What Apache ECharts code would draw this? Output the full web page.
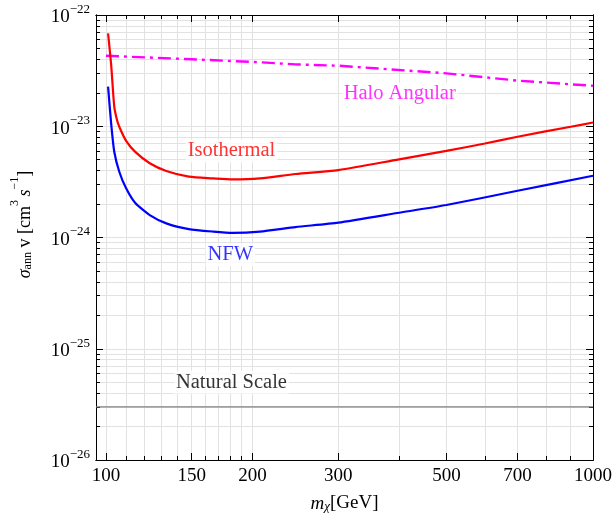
<!DOCTYPE html>
<html>
<head>
<meta charset="utf-8">
<script src="https://cdn.jsdelivr.net/npm/echarts@6/dist/echarts.min.js"></script>
<style>
html,body{margin:0;padding:0;background:#fff;}
#chart{width:615px;height:518px;}
</style>
</head>
<body>
<div id="chart"></div>
<script>
// ---- data (sigma v in cm^3 s^-1, mass in GeV) ----
const massIsothermal = [101, 102.5, 104, 105.2, 106.5, 110, 115, 123, 133, 148, 166, 182, 207, 245, 300, 400, 500, 600, 700, 900, 1000];
const sigmaIsothermal = [6.85e-23, 3.55e-23, 1.5e-23, 1.17e-23, 9.9e-24, 7.4e-24, 5.85e-24, 4.65e-24, 3.96e-24, 3.52e-24, 3.40e-24, 3.33e-24, 3.40e-24, 3.72e-24, 4.04e-24, 5.04e-24, 6.0e-24, 7.0e-24, 8.05e-24, 9.9e-24, 1.08e-23];

const massNFW = [101, 102.5, 104, 106.5, 110, 115, 123, 133, 148, 166, 182, 207, 245, 300, 400, 500, 700, 1000];
const sigmaNFW = [2.27e-23, 1.05e-23, 5.9e-24, 3.9e-24, 2.77e-24, 2.03e-24, 1.59e-24, 1.34e-24, 1.19e-24, 1.13e-24, 1.10e-24, 1.13e-24, 1.24e-24, 1.36e-24, 1.67e-24, 1.96e-24, 2.63e-24, 3.59e-24];

const massHalo = [100, 150, 207, 245, 300, 500, 700, 1000];
const sigmaHalo = [4.3e-23, 4.0e-23, 3.76e-23, 3.6e-23, 3.5e-23, 2.99e-23, 2.57e-23, 2.31e-23];

const naturalScale = 3.0e-26;

const xTickLabels = [100, 150, 200, 300, 500, 700, 1000];
const xGridValues = [100, 110, 120, 130, 140, 150, 160, 170, 180, 190, 200, 300, 400, 500, 600, 700, 800, 900, 1000];
const yTickExponents = [-26, -25, -24, -23, -22];
const yGridMultipliers = [1, 2, 3, 4, 5, 6, 7, 8, 9];

const annotations = [
  { text: 'Halo Angular', m: 401, v: 1.95e-23, color: '#ff00ff' },
  { text: 'Isothermal', m: 181, v: 6.0e-24, color: '#ff0000' },
  { text: 'NFW', m: 180, v: 6.96e-25, color: '#0000ff' },
  { text: 'Natural Scale', m: 181, v: 5.0e-26, color: '#000000' }
];

// ---- derived: the y axis works in units of 1e-26 cm^3 s^-1 ----
const Y_UNIT_EXP = -26;
const Y_UNIT = Math.pow(10, Y_UNIT_EXP);
const pretty = v => parseFloat(v.toPrecision(6));
const toUnit = v => pretty(v / Y_UNIT);
const X_MIN = 95.4, X_MAX = 1000;
const Y_MIN = toUnit(Math.pow(10, yTickExponents[0]));
const Y_MAX = toUnit(Math.pow(10, yTickExponents[yTickExponents.length - 1]));
const yMajor = yTickExponents.map(e => pretty(Math.pow(10, e - Y_UNIT_EXP)));
const yGrid = [];
yTickExponents.forEach(e => {
  yGridMultipliers.forEach(k => {
    const v = pretty(k * Math.pow(10, e - Y_UNIT_EXP));
    if (v >= Y_MIN && v <= Y_MAX) yGrid.push(v);
  });
});
const yMinorTicks = yGrid.filter(v => yMajor.indexOf(v) < 0);
const xMinorTicks = xGridValues.filter(v => xTickLabels.indexOf(v) < 0);

const FONT = 'Liberation Serif';
const zip = (a, b) => a.map((x, i) => [x, toUnit(b[i])]);

function xAxisDef(pos, ticks, len, showLabel, grid) {
  return {
    type: 'log', logBase: 10, min: X_MIN, max: X_MAX, position: pos,
    axisLine: { show: true, lineStyle: { color: '#000', width: 1 } },
    axisTick: { show: true, inside: true, length: len, customValues: ticks, lineStyle: { color: '#000', width: 1 } },
    axisLabel: showLabel ? {
      show: true, customValues: xTickLabels, formatter: v => String(Math.round(v)),
      fontFamily: FONT, fontSize: 19, color: '#000', margin: 7
    } : { show: false },
    splitLine: { show: grid, lineStyle: { color: '#e2e2e2', width: 1 } },
    minorTick: { show: false }, minorSplitLine: { show: false }
  };
}
function yAxisDef(pos, ticks, len, showLabel, grid) {
  return {
    type: 'log', logBase: 10, min: Y_MIN, max: Y_MAX, position: pos,
    axisLine: { show: true, lineStyle: { color: '#000', width: 1 } },
    axisTick: { show: true, inside: true, length: len, customValues: ticks, lineStyle: { color: '#000', width: 1 } },
    axisLabel: showLabel ? {
      show: true, customValues: yMajor, margin: 6,
      formatter: v => '{b|10}{s|\u2212' + (-(Math.round(Math.log10(v)) + Y_UNIT_EXP)) + '}',
      rich: {
        b: { fontFamily: FONT, fontSize: 19, color: '#000', lineHeight: 24, verticalAlign: 'bottom' },
        s: { fontFamily: FONT, fontSize: 13, color: '#000', lineHeight: 14, verticalAlign: 'top' }
      }
    } : { show: false },
    splitLine: { show: grid, lineStyle: { color: '#e2e2e2', width: 1 } },
    minorTick: { show: false }, minorSplitLine: { show: false }
  };
}

const xAxes = [
  xAxisDef('bottom', xTickLabels, 7, true, false),
  xAxisDef('bottom', xGridValues, 4, false, true),
  xAxisDef('top', xTickLabels, 7, false, false),
  xAxisDef('top', xMinorTicks, 4, false, false)
];
Object.assign(xAxes[0], {
  name: '{i|m}{sub|\u03c7}{n|[GeV]}', nameLocation: 'middle', nameGap: 27,
  nameTextStyle: {
    rich: {
      i: { fontFamily: FONT, fontStyle: 'italic', fontSize: 19, color: '#000', lineHeight: 26, verticalAlign: 'bottom' },
      n: { fontFamily: FONT, fontSize: 19, color: '#000', lineHeight: 26, verticalAlign: 'bottom' },
      sub: { fontFamily: FONT, fontStyle: 'italic', fontSize: 13, color: '#000', lineHeight: 14, verticalAlign: 'bottom' }
    }
  }
});
const yAxes = [
  yAxisDef('left', yMajor, 7, true, false),
  yAxisDef('left', yGrid, 4, false, true),
  yAxisDef('right', yMajor, 7, false, false),
  yAxisDef('right', yMinorTicks, 4, false, false)
];
Object.assign(yAxes[0], {
  name: '{i|\u03c3}{sub|ann}{n| v [cm}{sup|3}{n|\u2009}{i|s}{sup|\u22121}{n|]}',
  nameLocation: 'middle', nameGap: 62, nameRotate: 90,
  nameTextStyle: {
    padding: [0, 0, 0, 26],
    rich: {
      i: { fontFamily: FONT, fontStyle: 'italic', fontSize: 18, color: '#000', lineHeight: 25, verticalAlign: 'bottom' },
      n: { fontFamily: FONT, fontSize: 18, color: '#000', lineHeight: 25, verticalAlign: 'bottom' },
      sub: { fontFamily: FONT, fontSize: 12, color: '#000', lineHeight: 13, verticalAlign: 'bottom' },
      sup: { fontFamily: FONT, fontSize: 12, color: '#000', lineHeight: 13, verticalAlign: 'top' }
    }
  }
});

const chart = echarts.init(document.getElementById('chart'), null, { renderer: 'canvas' });
chart.setOption({
  backgroundColor: '#fff',
  animation: false,
  grid: { left: 96, right: 22, top: 15, bottom: 58, containLabel: false },
  xAxis: xAxes,
  yAxis: yAxes,
  series: [
    {
      name: 'Natural Scale', type: 'line', xAxisIndex: 0, yAxisIndex: 0, showSymbol: false, symbol: 'none',
      data: [[X_MIN, toUnit(naturalScale)], [X_MAX, toUnit(naturalScale)]],
      lineStyle: { color: '#808080', width: 1.2 }, z: 3
    },
    {
      name: 'Halo Angular', type: 'line', xAxisIndex: 0, yAxisIndex: 0, showSymbol: false, symbol: 'none',
      data: zip(massHalo, sigmaHalo),
      lineStyle: { color: '#ff00ff', width: 2.4, type: [13, 5, 3, 5] }, z: 4
    },
    {
      name: 'Isothermal', type: 'line', xAxisIndex: 0, yAxisIndex: 0, showSymbol: false, symbol: 'none',
      data: zip(massIsothermal, sigmaIsothermal), smooth: 0.25,
      lineStyle: { color: '#ff0000', width: 2.2 }, z: 4
    },
    {
      name: 'NFW', type: 'line', xAxisIndex: 0, yAxisIndex: 0, showSymbol: false, symbol: 'none',
      data: zip(massNFW, sigmaNFW), smooth: 0.2,
      lineStyle: { color: '#0000ff', width: 2.2 }, z: 4
    },
    {
      name: 'labels', type: 'scatter', xAxisIndex: 0, yAxisIndex: 0, symbolSize: 0, z: 6,
      silent: true,
      data: annotations.map(a => ({
        value: [a.m, toUnit(a.v)],
        label: {
          show: true, position: 'inside', formatter: a.text, color: a.color,
          fontFamily: FONT, fontSize: 20.5, backgroundColor: '#fff', padding: [1, 2]
        }
      }))
    }
  ]
});
</script>
</body>
</html>
